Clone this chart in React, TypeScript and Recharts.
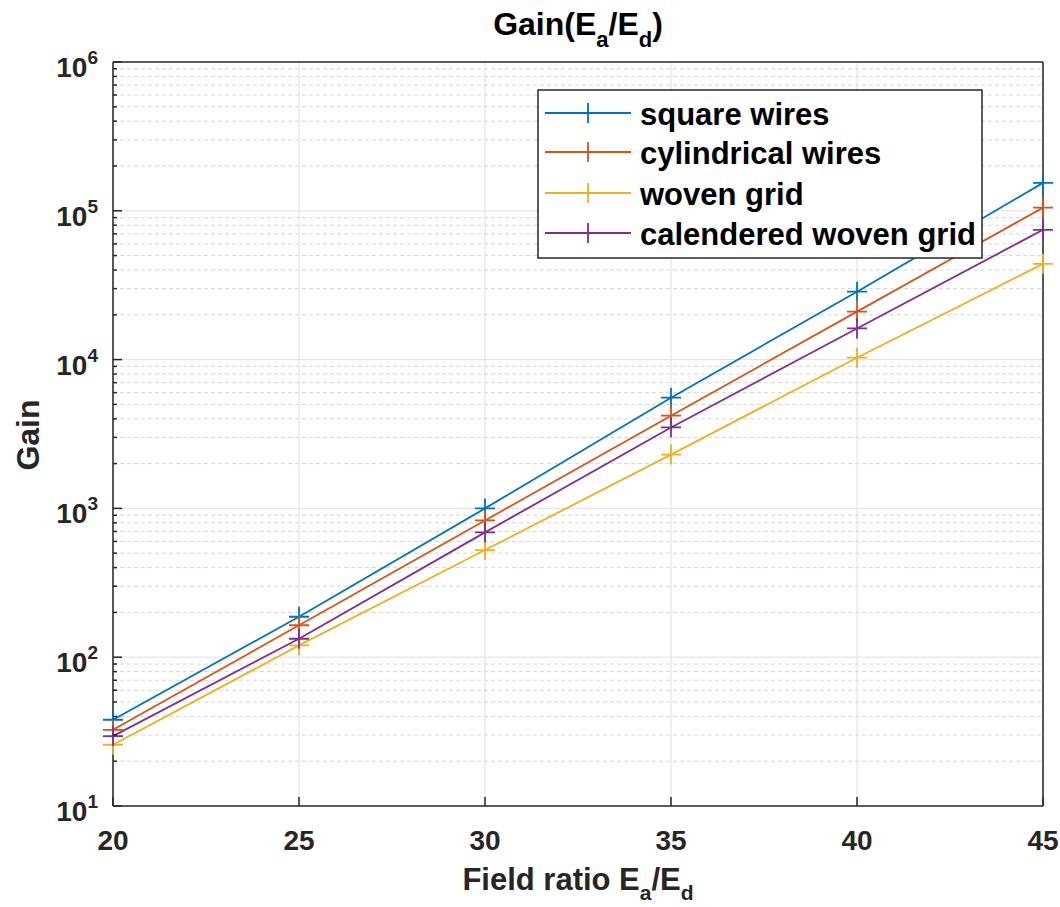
import { LineChart, Line, XAxis, YAxis, CartesianGrid, ReferenceLine } from 'recharts';

// Values (log axis, so read in decades)
const fieldRatio = [20, 25, 30, 35, 40, 45];
const squareWires = [38, 187, 1000, 5550, 28600, 154000];
const cylindricalWires = [32.5, 164, 830, 4200, 21000, 105000];
const wovenGrid = [25.8, 120, 525, 2300, 10300, 44000];
const calenderedWovenGrid = [29.5, 133, 690, 3500, 16200, 74500];

const xTicks = [20, 25, 30, 35, 40, 45];
const yMajorTicks = [10, 100, 1000, 10000, 100000, 1000000];
const yMinorSteps = [2, 3, 4, 5, 6, 7, 8, 9];
const yMinorTicks = yMajorTicks.slice(0, -1).flatMap((d) => yMinorSteps.map((m) => d * m));
const yAllTicks = [...yMajorTicks, ...yMinorTicks].sort((a, b) => a - b);

const SERIES = [
  { key: 'square', name: 'square wires', color: '#0072BD', values: squareWires },
  { key: 'cyl', name: 'cylindrical wires', color: '#D95319', values: cylindricalWires },
  { key: 'woven', name: 'woven grid', color: '#EDB120', values: wovenGrid },
  { key: 'cal', name: 'calendered woven grid', color: '#7E2F8E', values: calenderedWovenGrid },
];

const data = fieldRatio.map((x, i) => {
  const row: Record<string, number> = { x };
  for (const s of SERIES) row[s.key] = s.values[i];
  return row;
});

const FONT = '"Liberation Sans", Arial, Helvetica, sans-serif';
const AXIS = '#262626';
const GRID = '#e0e0e0';
const MINOR = '#d6d6d6';

const isMajor = (v: number) => yMajorTicks.includes(v);

function LeftTick(props: any) {
  const { x, y, payload } = props;
  const v = payload.value;
  const major = isMajor(v);
  const exp = Math.round(Math.log10(v));
  return (
    <g>
      <line x1={x} y1={y} x2={x + (major ? 9 : 4)} y2={y} stroke={AXIS} strokeWidth={1.5} />
      {major && (
        <text x={x - 15} y={y + 15} textAnchor="end" fontSize={28} fontWeight="bold" fill={AXIS} fontFamily={FONT}>
          10<tspan dy={-13} fontSize={19}>{exp}</tspan>
        </text>
      )}
    </g>
  );
}

function RightTick(props: any) {
  const { x, y, payload } = props;
  const major = isMajor(payload.value);
  return <line x1={x} y1={y} x2={x - (major ? 9 : 4)} y2={y} stroke={AXIS} strokeWidth={1.5} />;
}

function BottomTick(props: any) {
  const { x, y, payload } = props;
  return (
    <g>
      <line x1={x} y1={y} x2={x} y2={y - 9} stroke={AXIS} strokeWidth={1.5} />
      <text x={x} y={y + 44} textAnchor="middle" fontSize={28} fontWeight="bold" fill={AXIS} fontFamily={FONT}>
        {payload.value}
      </text>
    </g>
  );
}

function TopTick(props: any) {
  const { x, y } = props;
  return <line x1={x} y1={y} x2={x} y2={y + 9} stroke={AXIS} strokeWidth={1.5} />;
}

function PlusDot(props: any) {
  const { cx, cy, stroke } = props;
  if (cx == null || cy == null) return null;
  return (
    <path d={`M${cx - 10},${cy}H${cx + 10}M${cx},${cy - 10}V${cy + 10}`} stroke={stroke} strokeWidth={1.8} fill="none" />
  );
}

const legendRows = [24, 63, 104, 144];

export default function App() {
  return (
    <div style={{ position: 'absolute', left: 0, top: 0, width: 1060, height: 907, background: '#fff' }}>
      <LineChart width={1060} height={907} data={data} margin={{ top: 61, right: 16, bottom: 0, left: 0 }}>
        <CartesianGrid xAxisId="x" yAxisId="y" horizontal={false} stroke={GRID} strokeWidth={1} />
        {yMinorTicks.map((v) => (
          <ReferenceLine key={'m' + v} xAxisId="x" yAxisId="y" y={v} stroke={MINOR} strokeDasharray="4 3" strokeWidth={1} />
        ))}
        {yMajorTicks.slice(1, -1).map((v) => (
          <ReferenceLine key={'M' + v} xAxisId="x" yAxisId="y" y={v} stroke={GRID} strokeWidth={1} />
        ))}
        <XAxis
          xAxisId="x"
          dataKey="x"
          type="number"
          domain={[20, 45]}
          ticks={xTicks}
          interval={0}
          height={101}
          tickSize={0}
          tickMargin={0}
          tickLine={false}
          tick={<BottomTick />}
          axisLine={{ stroke: AXIS, strokeWidth: 1.5 }}
        />
        <XAxis
          xAxisId="xt"
          orientation="top"
          type="number"
          domain={[20, 45]}
          ticks={xTicks}
          interval={0}
          height={1}
          tickSize={0}
          tickMargin={0}
          tickLine={false}
          tick={<TopTick />}
          axisLine={{ stroke: AXIS, strokeWidth: 1.5 }}
        />
        <YAxis
          yAxisId="y"
          type="number"
          scale="log"
          domain={[10, 1000000]}
          ticks={yAllTicks}
          interval={0}
          width={113}
          tickSize={0}
          tickMargin={0}
          tickLine={false}
          tick={<LeftTick />}
          axisLine={{ stroke: AXIS, strokeWidth: 1.5 }}
        />
        <YAxis
          yAxisId="yr"
          orientation="right"
          type="number"
          scale="log"
          domain={[10, 1000000]}
          ticks={yAllTicks}
          interval={0}
          width={1}
          tickSize={0}
          tickMargin={0}
          tickLine={false}
          tick={<RightTick />}
          axisLine={{ stroke: AXIS, strokeWidth: 1.5 }}
        />
        {SERIES.map((s) => (
          <Line
            key={s.key}
            xAxisId="x"
            yAxisId="y"
            type="linear"
            dataKey={s.key}
            name={s.name}
            stroke={s.color}
            strokeWidth={1.8}
            dot={<PlusDot />}
            activeDot={false}
            isAnimationActive={false}
          />
        ))}
      </LineChart>

      {/* title and axis labels */}
      <svg width={1060} height={907} style={{ position: 'absolute', left: 0, top: 0, pointerEvents: 'none' }}>
        <text x={578} y={35} textAnchor="middle" fontSize={32} fontWeight="bold" fill="#000" fontFamily={FONT}>
          Gain(E<tspan dy={12} fontSize={22}>a</tspan>
          <tspan dy={-12}>/E</tspan>
          <tspan dy={12} fontSize={22}>d</tspan>
          <tspan dy={-12}>)</tspan>
        </text>
        <text x={578} y={890} textAnchor="middle" fontSize={31} fontWeight="bold" fill={AXIS} fontFamily={FONT}>
          Field ratio E<tspan dy={10} fontSize={21}>a</tspan>
          <tspan dy={-10}>/E</tspan>
          <tspan dy={10} fontSize={21}>d</tspan>
        </text>
        <text
          x={39}
          y={435}
          textAnchor="middle"
          fontSize={32}
          fontWeight="bold"
          fill={AXIS}
          fontFamily={FONT}
          transform="rotate(-90, 39, 435)"
        >
          Gain
        </text>
      </svg>

      {/* legend */}
      <svg width={446} height={170} style={{ position: 'absolute', left: 537, top: 89 }}>
        <rect x={1} y={1} width={444} height={168} fill="#fff" stroke={AXIS} strokeWidth={1.5} />
        {SERIES.map((s, i) => {
          const cy = legendRows[i];
          return (
            <g key={s.key}>
              <line x1={8} y1={cy} x2={94} y2={cy} stroke={s.color} strokeWidth={1.8} />
              <path d={`M41,${cy}H61M51,${cy - 10}V${cy + 10}`} stroke={s.color} strokeWidth={1.8} />
              <text x={103} y={cy + 12} fontSize={31} fontWeight="bold" fill="#000" fontFamily={FONT}>
                {s.name}
              </text>
            </g>
          );
        })}
      </svg>
    </div>
  );
}
